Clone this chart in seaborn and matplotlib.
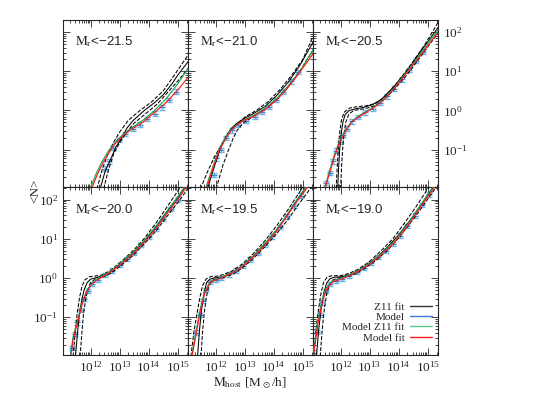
import numpy as np
import matplotlib
matplotlib.use("Agg")
import matplotlib.pyplot as plt
import matplotlib.ticker as mticker
from matplotlib.lines import Line2D
import seaborn as sns

# each curve: (log10 Mhost, log10 <N>) pairs
z11_215 = [(12.33,-2.0),(12.5,-1.55),(12.68,-1.26),(12.88,-0.92),(13.07,-0.70),(13.25,-0.45),(13.47,-0.25),(13.85,0.0),(14.2,0.2),(14.5,0.4),(14.8,0.68),(15.0,0.9),(15.36,1.25)]
z11hi_215 = [(12.22,-2.0),(12.4,-1.5),(12.6,-1.1),(12.8,-0.8),(13.0,-0.55),(13.3,-0.25),(13.7,0.0),(14.1,0.22),(14.5,0.5),(14.9,0.92),(15.36,1.42)]
z11lo_215 = [(12.45,-2.0),(12.62,-1.5),(12.8,-1.1),(13.0,-0.82),(13.25,-0.55),(13.5,-0.32),(13.9,-0.08),(14.3,0.17),(14.7,0.5),(15.0,0.75),(15.36,1.08)]
mz11_215 = [(11.98,-2.0),(12.2,-1.6),(12.4,-1.3),(12.6,-1.05),(12.8,-0.85),(13.1,-0.62),(13.4,-0.45),(13.8,-0.25),(14.2,0.0),(14.6,0.3),(15.0,0.68),(15.36,1.08)]
mfit_215 = [(12.03,-2.0),(12.25,-1.6),(12.45,-1.3),(12.6,-1.12),(12.8,-0.88),(13.1,-0.65),(13.4,-0.48),(13.8,-0.3),(14.15,-0.08),(14.55,0.17),(15.0,0.52),(15.36,0.85)]
pts_m_215 = [12.5,12.63,12.78,12.97,13.2,13.45,13.7,13.95,14.2,14.45,14.7,14.95]
pts_n_215 = [-1.48,-1.3,-0.95,-0.75,-0.6,-0.47,-0.36,-0.22,-0.08,0.08,0.27,0.48]

z11_210 = [(11.72,-2.0),(11.95,-1.45),(12.15,-1.0),(12.35,-0.68),(12.55,-0.45),(12.75,-0.32),(13.0,-0.2),(13.3,-0.08),(13.7,0.1),(14.1,0.38),(14.5,0.72),(14.9,1.15),(15.36,1.75)]
z11hi_210 = [(11.48,-2.0),(11.7,-1.6),(11.95,-1.2),(12.18,-0.9),(12.4,-0.6),(12.65,-0.4),(13.0,-0.17),(13.4,0.0),(13.8,0.22),(14.2,0.52),(14.6,0.88),(15.0,1.3),(15.36,1.9)]
z11lo_210 = [(12.02,-2.0),(12.25,-1.4),(12.45,-1.0),(12.6,-0.72),(12.75,-0.5),(12.95,-0.32),(13.3,-0.15),(13.7,0.03),(14.1,0.3),(14.5,0.62),(14.9,1.0),(15.36,1.55)]
mz11_210 = [(11.65,-2.0),(11.9,-1.45),(12.13,-0.97),(12.35,-0.68),(12.55,-0.48),(12.75,-0.35),(13.0,-0.24),(13.3,-0.13),(13.7,0.05),(14.1,0.3),(14.5,0.62),(14.9,1.0),(15.36,1.55)]
mfit_210 = [(11.68,-2.0),(11.9,-1.5),(12.13,-1.0),(12.35,-0.72),(12.52,-0.53),(12.7,-0.39),(12.91,-0.28),(13.3,-0.15),(13.7,0.02),(14.09,0.26),(14.4,0.5),(14.8,0.88),(15.36,1.45)]
pts_m_210 = [11.93,12.03,12.18,12.37,12.57,12.77,13.06,13.35,13.6,13.84,14.09,14.33,14.6,14.85]
pts_n_210 = [-1.64,-1.22,-1.0,-0.7,-0.51,-0.37,-0.26,-0.16,-0.04,0.09,0.27,0.48,0.74,0.98]

z11_205 = [(11.9,-2.0),(11.93,-1.5),(11.97,-1.0),(12.02,-0.6),(12.08,-0.3),(12.16,-0.1),(12.3,0.0),(12.5,0.04),(12.8,0.08),(13.1,0.15),(13.4,0.28),(13.8,0.58),(14.3,1.02),(14.8,1.55),(15.36,2.12)]
z11hi_205 = [(11.85,-2.0),(11.88,-1.5),(11.92,-1.0),(11.97,-0.55),(12.03,-0.25),(12.12,-0.05),(12.3,0.06),(12.6,0.1),(12.9,0.12),(13.2,0.18),(13.5,0.33),(13.9,0.66),(14.4,1.15),(14.9,1.68),(15.36,2.25)]
z11lo_205 = [(12.0,-2.0),(12.03,-1.5),(12.07,-1.0),(12.12,-0.6),(12.18,-0.3),(12.28,-0.1),(12.45,0.0),(12.8,0.04),(13.1,0.1),(13.4,0.23),(13.8,0.5),(14.3,0.92),(14.8,1.42),(15.36,1.98)]
mz11_205 = [(11.44,-2.0),(11.6,-1.6),(11.76,-1.2),(11.9,-0.9),(12.05,-0.66),(12.2,-0.46),(12.4,-0.27),(12.65,-0.13),(12.94,0.0),(13.24,0.14),(13.53,0.32),(13.87,0.6),(14.3,1.0),(14.8,1.5),(15.36,2.06)]
mfit_205 = [(11.46,-2.0),(11.62,-1.6),(11.77,-1.22),(11.91,-0.92),(12.06,-0.68),(12.21,-0.48),(12.4,-0.28),(12.65,-0.15),(12.94,-0.02),(13.24,0.12),(13.53,0.3),(13.87,0.58),(14.3,0.98),(14.8,1.45),(15.36,2.0)]
pts_m_205 = [11.5,11.62,11.74,11.86,11.98,12.1,12.22,12.4,12.6,12.85,13.1,13.35,13.6,13.85,14.1,14.35,14.6,14.85]
pts_n_205 = [-1.85,-1.6,-1.3,-1.02,-0.8,-0.62,-0.46,-0.28,-0.17,-0.05,0.05,0.19,0.36,0.56,0.79,1.03,1.27,1.5]

z11_200 = [(11.48,-2.0),(11.55,-1.4),(11.62,-0.9),(11.7,-0.55),(11.78,-0.3),(11.88,-0.12),(12.0,-0.03),(12.15,0.0),(12.4,0.05),(12.7,0.16),(13.07,0.38),(13.47,0.64),(13.86,0.95),(14.25,1.3),(14.64,1.7),(15.03,2.08),(15.3,2.37)]
z11hi_200 = [(11.4,-2.0),(11.47,-1.4),(11.54,-0.9),(11.62,-0.5),(11.7,-0.22),(11.8,-0.05),(11.95,0.03),(12.15,0.05),(12.4,0.08),(12.7,0.2),(13.07,0.43),(13.47,0.7),(13.86,1.02),(14.25,1.4),(14.64,1.82),(15.0,2.22),(15.1,2.33)]
z11lo_200 = [(11.64,-2.0),(11.7,-1.4),(11.76,-0.9),(11.83,-0.55),(11.9,-0.3),(12.0,-0.12),(12.15,-0.03),(12.4,0.02),(12.7,0.12),(13.07,0.33),(13.47,0.58),(13.86,0.88),(14.25,1.2),(14.64,1.58),(15.03,1.95),(15.35,2.28)]
mz11_200 = [(11.3,-2.0),(11.4,-1.5),(11.55,-1.08),(11.7,-0.66),(11.84,-0.37),(12.04,-0.12),(12.29,0.0),(12.68,0.17),(13.07,0.4),(13.47,0.66),(13.86,0.97),(14.25,1.32),(14.64,1.72),(15.03,2.1),(15.3,2.4)]
mfit_200 = [(11.32,-2.0),(11.4,-1.56),(11.55,-1.13),(11.7,-0.7),(11.84,-0.4),(12.04,-0.15),(12.29,-0.02),(12.68,0.15),(13.07,0.37),(13.47,0.62),(13.86,0.92),(14.25,1.26),(14.64,1.65),(15.03,2.03),(15.3,2.32)]
pts_m_200 = [11.36,11.45,11.55,11.66,11.78,11.9,12.05,12.25,12.5,12.75,13.0,13.25,13.5,13.75,14.0,14.25,14.5,14.75,15.0]
pts_n_200 = [-1.78,-1.42,-1.13,-0.81,-0.53,-0.33,-0.15,-0.04,0.07,0.19,0.33,0.48,0.64,0.84,1.04,1.26,1.51,1.76,2.0]

z11_195 = [(11.38,-2.0),(11.45,-1.3),(11.52,-0.8),(11.6,-0.4),(11.69,-0.12),(11.8,-0.03),(11.93,0.0),(12.2,0.02),(12.52,0.12),(12.91,0.3),(13.3,0.56),(13.7,0.87),(14.09,1.22),(14.4,1.53),(14.8,1.98),(15.15,2.35)]
z11hi_195 = [(11.15,-2.0),(11.25,-1.4),(11.35,-0.95),(11.46,-0.5),(11.56,-0.18),(11.68,-0.02),(11.85,0.04),(12.1,0.05),(12.5,0.15),(12.91,0.35),(13.3,0.62),(13.7,0.95),(14.09,1.32),(14.5,1.75),(14.9,2.2),(15.0,2.32)]
z11lo_195 = [(11.5,-2.0),(11.55,-1.4),(11.61,-0.9),(11.68,-0.5),(11.76,-0.22),(11.86,-0.07),(12.0,-0.02),(12.3,0.02),(12.6,0.1),(12.91,0.25),(13.3,0.5),(13.7,0.8),(14.09,1.12),(14.5,1.5),(14.9,1.92),(15.3,2.32)]
mz11_195 = [(11.17,-2.0),(11.32,-1.4),(11.47,-0.8),(11.62,-0.36),(11.82,-0.09),(12.13,0.0),(12.52,0.13),(12.91,0.3),(13.3,0.57),(13.7,0.88),(14.09,1.22),(14.4,1.55),(14.8,2.0),(15.15,2.35)]
mfit_195 = [(11.19,-2.0),(11.34,-1.39),(11.49,-0.79),(11.64,-0.36),(11.83,-0.1),(12.13,-0.02),(12.52,0.11),(12.91,0.28),(13.3,0.54),(13.7,0.84),(14.09,1.18),(14.38,1.5),(14.8,1.95),(15.2,2.35)]
pts_m_195 = [11.34,11.45,11.56,11.68,11.82,12.0,12.2,12.45,12.7,12.95,13.2,13.45,13.7,13.95,14.2,14.45,14.7,14.95]
pts_n_195 = [-1.39,-0.95,-0.58,-0.3,-0.11,-0.05,0.0,0.09,0.19,0.3,0.47,0.65,0.84,1.06,1.3,1.57,1.84,2.1]

z11_190 = [(11.17,-2.0),(11.25,-1.3),(11.33,-0.8),(11.42,-0.4),(11.52,-0.13),(11.63,-0.02),(11.78,0.02),(12.0,0.03),(12.3,0.08),(12.6,0.18),(12.84,0.3),(13.24,0.52),(13.63,0.8),(14.0,1.1),(14.4,1.48),(14.8,1.9),(15.2,2.33)]
z11hi_190 = [(11.08,-2.0),(11.16,-1.3),(11.24,-0.8),(11.33,-0.38),(11.42,-0.1),(11.55,0.03),(11.72,0.06),(12.0,0.06),(12.3,0.12),(12.6,0.22),(13.0,0.42),(13.4,0.7),(13.8,1.0),(14.2,1.4),(14.6,1.82),(15.05,2.33)]
z11lo_190 = [(11.3,-2.0),(11.37,-1.3),(11.44,-0.8),(11.52,-0.42),(11.62,-0.16),(11.74,-0.05),(11.9,0.0),(12.2,0.03),(12.5,0.1),(12.84,0.25),(13.24,0.46),(13.63,0.72),(14.0,1.02),(14.4,1.4),(14.8,1.8),(15.3,2.33)]
mz11_190 = [(11.04,-2.0),(11.21,-1.13),(11.35,-0.6),(11.5,-0.26),(11.7,-0.08),(12.06,0.0),(12.45,0.13),(12.84,0.3),(13.24,0.52),(13.63,0.78),(13.87,0.95),(14.3,1.36),(14.7,1.8),(15.1,2.24),(15.2,2.34)]
mfit_190 = [(11.06,-2.0),(11.23,-1.13),(11.37,-0.62),(11.52,-0.28),(11.72,-0.1),(12.06,-0.02),(12.45,0.11),(12.84,0.28),(13.24,0.49),(13.63,0.75),(13.87,0.92),(14.3,1.32),(14.7,1.75),(15.1,2.18),(15.25,2.34)]
pts_m_190 = [11.08,11.18,11.28,11.37,11.5,11.65,11.85,12.05,12.3,12.55,12.8,13.05,13.3,13.55,13.8,14.05,14.3,14.55,14.8,15.05]
pts_n_190 = [-1.9,-1.38,-0.94,-0.62,-0.33,-0.16,-0.07,-0.02,0.06,0.15,0.26,0.38,0.53,0.69,0.87,1.08,1.32,1.59,1.86,2.13]

labels = ["-21.5", "-21.0", "-20.5", "-20.0", "-19.5", "-19.0"]
err_dex = 0.055

panels = [
    (z11_215, z11hi_215, z11lo_215, mz11_215, mfit_215, pts_m_215, pts_n_215),
    (z11_210, z11hi_210, z11lo_210, mz11_210, mfit_210, pts_m_210, pts_n_210),
    (z11_205, z11hi_205, z11lo_205, mz11_205, mfit_205, pts_m_205, pts_n_205),
    (z11_200, z11hi_200, z11lo_200, mz11_200, mfit_200, pts_m_200, pts_n_200),
    (z11_195, z11hi_195, z11lo_195, mz11_195, mfit_195, pts_m_195, pts_n_195),
    (z11_190, z11hi_190, z11lo_190, mz11_190, mfit_190, pts_m_190, pts_n_190),
]

BLUE = "#5aaae6"
GREEN = "#17a85a"
RED = "#ff1a1a"


def xy(pairs):
    return [10 ** m for m, _ in pairs], [10 ** n for _, n in pairs]


sns.set_style("ticks")
plt.rcParams["font.family"] = ["Liberation Serif", "DejaVu Serif"]
plt.rcParams["mathtext.fontset"] = "stix"

fig, axes = plt.subplots(2, 3, figsize=(5.38, 3.97), dpi=100, sharex=True, sharey=True)
plt.subplots_adjust(left=0.117, right=0.814, top=0.950, bottom=0.106, wspace=0, hspace=0)

for i, ax in enumerate(axes.flat):
    z11, zhi, zlo, mz, mf, pm, pn = panels[i]
    ax.set_xscale("log")
    ax.set_yscale("log")

    pm = np.array(pm)
    pn = np.array(pn)
    ny = 10 ** pn
    yerr = [ny - 10 ** (pn - err_dex), 10 ** (pn + err_dex) - ny]
    ax.errorbar(10 ** pm, ny, yerr=yerr, fmt="_", ms=4, mew=1.0, color="#2f7fd0",
                ecolor=BLUE, elinewidth=0.9, capsize=2.5, capthick=0.9, alpha=0.9, zorder=2)

    for curve, ls in [(zhi, "--"), (zlo, "--"), (z11, "-")]:
        x, y = xy(curve)
        sns.lineplot(x=x, y=y, ax=ax, color="black", lw=0.75, linestyle=ls,
                     sort=False, estimator=None, zorder=3)
    x, y = xy(mz)
    sns.lineplot(x=x, y=y, ax=ax, color=GREEN, lw=0.85, sort=False, estimator=None, zorder=4)
    x, y = xy(mf)
    sns.lineplot(x=x, y=y, ax=ax, color=RED, lw=0.85, sort=False, estimator=None, zorder=5)

    ax.set_xlim(10 ** 11.05, 10 ** 15.35)
    ax.set_ylim(10 ** -1.96, 10 ** 2.31)
    ax.xaxis.set_major_locator(mticker.LogLocator(base=10, numticks=10))
    ax.xaxis.set_minor_locator(mticker.LogLocator(base=10, subs=np.arange(2, 10), numticks=10))
    ax.yaxis.set_major_locator(mticker.LogLocator(base=10, numticks=10))
    ax.yaxis.set_minor_locator(mticker.LogLocator(base=10, subs=np.arange(2, 10), numticks=10))
    ax.tick_params(which="both", direction="in", top=True, right=True, width=0.6,
                   labelsize=9.5, labelleft=False, labelright=False, labelbottom=False)
    ax.tick_params(which="major", length=5)
    ax.tick_params(which="minor", length=2.5)
    for s in ax.spines.values():
        s.set_linewidth(0.8)

    ax.text(0.10, 0.87, r"$\mathrm{M_r}$<" + labels[i].replace("-", "\u2212"),
            transform=ax.transAxes, fontsize=9.5, family=["Liberation Sans", "DejaVu Sans"],
            va="center", ha="left")

axes[0, 2].tick_params(labelright=True)
axes[1, 0].tick_params(labelleft=True)
for ax in axes[1]:
    ax.tick_params(labelbottom=True)

fig.text(0.465, 0.035, r"$\mathrm{M_{host}}$ [M$_\odot$/h]", ha="center", va="center", fontsize=9.5)
fig.text(0.065, 0.52, "<N>", ha="center", va="center", rotation=90, fontsize=9.5)

handles = [Line2D([], [], color="#333333", lw=1.0),
           Line2D([], [], color="#3c78d8", lw=1.0),
           Line2D([], [], color="#55c98a", lw=1.0),
           Line2D([], [], color=RED, lw=1.0)]
axes[1, 2].legend(handles, ["Z11 fit", "Model", "Model Z11 fit", "Model fit"],
                  loc="lower right", bbox_to_anchor=(1.0, 0.04), frameon=False,
                  markerfirst=False, fontsize=8, labelspacing=0.05, handlelength=2.0,
                  handletextpad=0.5, borderaxespad=0.1)

fig.savefig("out.png", dpi=100)
